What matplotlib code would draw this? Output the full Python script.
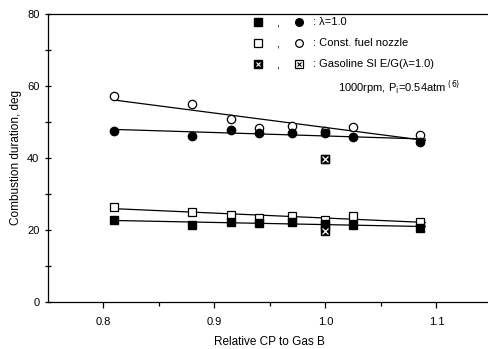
import matplotlib
matplotlib.use("Agg")
import matplotlib.pyplot as plt
import numpy as np

plt.rcParams['font.family'] = ['Liberation Sans', 'DejaVu Sans']

x = [0.81, 0.88, 0.915, 0.94, 0.97, 1.0, 1.025, 1.085]
open_circle = [57.2, 55.0, 50.8, 48.3, 48.9, 47.5, 48.6, 46.5]
filled_circle = [47.6, 46.2, 47.8, 46.9, 47.0, 46.8, 45.9, 44.3]
open_square = [26.4, 25.0, 24.2, 23.3, 23.9, 22.8, 23.9, 22.2]
filled_square = [22.8, 21.4, 22.2, 21.9, 22.2, 21.7, 21.4, 20.6]
gas_x = [1.0, 1.0]
gas_filled = [39.7, 19.6]
gas_open = [39.7, 20.8]

fig = plt.figure(figsize=(4.88, 3.49), dpi=100)
ax = fig.add_axes([0.098, 0.1347, 0.91, 0.8253])

def fit_line(xs, ys):
    c = np.polyfit(xs, ys, 1)
    xx = np.array([min(xs), max(xs) + 0.005])
    ax.plot(xx, np.polyval(c, xx), color='black', lw=0.9, zorder=1)

for ys in (open_circle, filled_circle, open_square, filled_square):
    fit_line(x, ys)

ms = 6
ax.plot(x, open_circle, 'o', mfc='white', mec='black', ms=ms, mew=0.9, zorder=3)
ax.plot(x, filled_circle, 'o', mfc='black', mec='black', ms=ms, zorder=3)
ax.plot(x, open_square, 's', mfc='white', mec='black', ms=ms, mew=0.9, zorder=3)
ax.plot(x, filled_square, 's', mfc='black', mec='black', ms=ms, zorder=3)
ax.plot(gas_x, gas_filled, 's', mfc='black', mec='black', ms=ms, zorder=4)
ax.plot(gas_x, gas_filled, 'x', color='white', ms=4, mew=0.9, zorder=5)
ax.plot(gas_x, gas_open, 's', mfc='none', mec='black', ms=ms, mew=0.9, zorder=4)

ax.set_xlim(0.75, 1.15)
ax.set_ylim(0, 80)
ax.set_xticks([0.8, 0.9, 1.0, 1.1])
ax.set_xticklabels(['0.8', '0.9', '1.0', '1.1'])
ax.set_xticks([0.85, 0.95, 1.05], minor=True)
ax.set_yticks([0, 20, 40, 60, 80])
ax.set_yticks([10, 30, 50, 70], minor=True)
ax.tick_params(axis='both', which='major', labelsize=8, length=4, width=0.9, direction='out')
ax.tick_params(axis='x', which='major', pad=7)
ax.tick_params(axis='both', which='minor', length=3, width=0.9, direction='out')
ax.tick_params(axis='y', which='both', direction='inout', length=5)
ax.spines['right'].set_visible(False)
for s in ('left', 'bottom', 'top'):
    ax.spines[s].set_linewidth(0.9)

ax.set_xlabel('Relative CP to Gas B', fontsize=8.5, labelpad=6)
ax.set_ylabel('Combustion duration, deg', fontsize=8.5, labelpad=4)

def dx(px):
    return 0.75 + (px - 48) / 1110.0
def dy(py):
    return (302 - py) / 3.6

lms = 5.5
rows = [22, 43, 64]
# row 1
ax.plot([dx(258)], [dy(rows[0])], 's', mfc='black', mec='black', ms=lms, clip_on=False)
ax.plot([dx(299)], [dy(rows[0])], 'o', mfc='black', mec='black', ms=lms, clip_on=False)
# row 2
ax.plot([dx(258)], [dy(rows[1])], 's', mfc='white', mec='black', ms=lms, mew=0.9, clip_on=False)
ax.plot([dx(299)], [dy(rows[1])], 'o', mfc='white', mec='black', ms=lms, mew=0.9, clip_on=False)
# row 3
ax.plot([dx(258)], [dy(rows[2])], 's', mfc='black', mec='black', ms=lms, clip_on=False)
ax.plot([dx(258)], [dy(rows[2])], 'x', color='white', ms=3.5, mew=0.8, clip_on=False)
ax.plot([dx(299)], [dy(rows[2])], 's', mfc='none', mec='black', ms=lms, mew=0.9, clip_on=False)
ax.plot([dx(299)], [dy(rows[2])], 'x', color='black', ms=3.5, mew=0.8, clip_on=False)
for r in rows:
    ax.text(dx(278), dy(r) - 0.3, ',', fontsize=8, ha='center', va='center')
labels = [': λ=1.0', ': Const. fuel nozzle', ': Gasoline SI E/G(λ=1.0)']
for r, t in zip(rows, labels):
    ax.text(dx(313), dy(r), t, fontsize=8, ha='left', va='center')
ax.text(dx(338), dy(88), r'1000rpm, P$_{\rm i}$=0.54atm $^{(6)}$', fontsize=8, ha='left', va='center')

fig.savefig('out.png', dpi=100)
